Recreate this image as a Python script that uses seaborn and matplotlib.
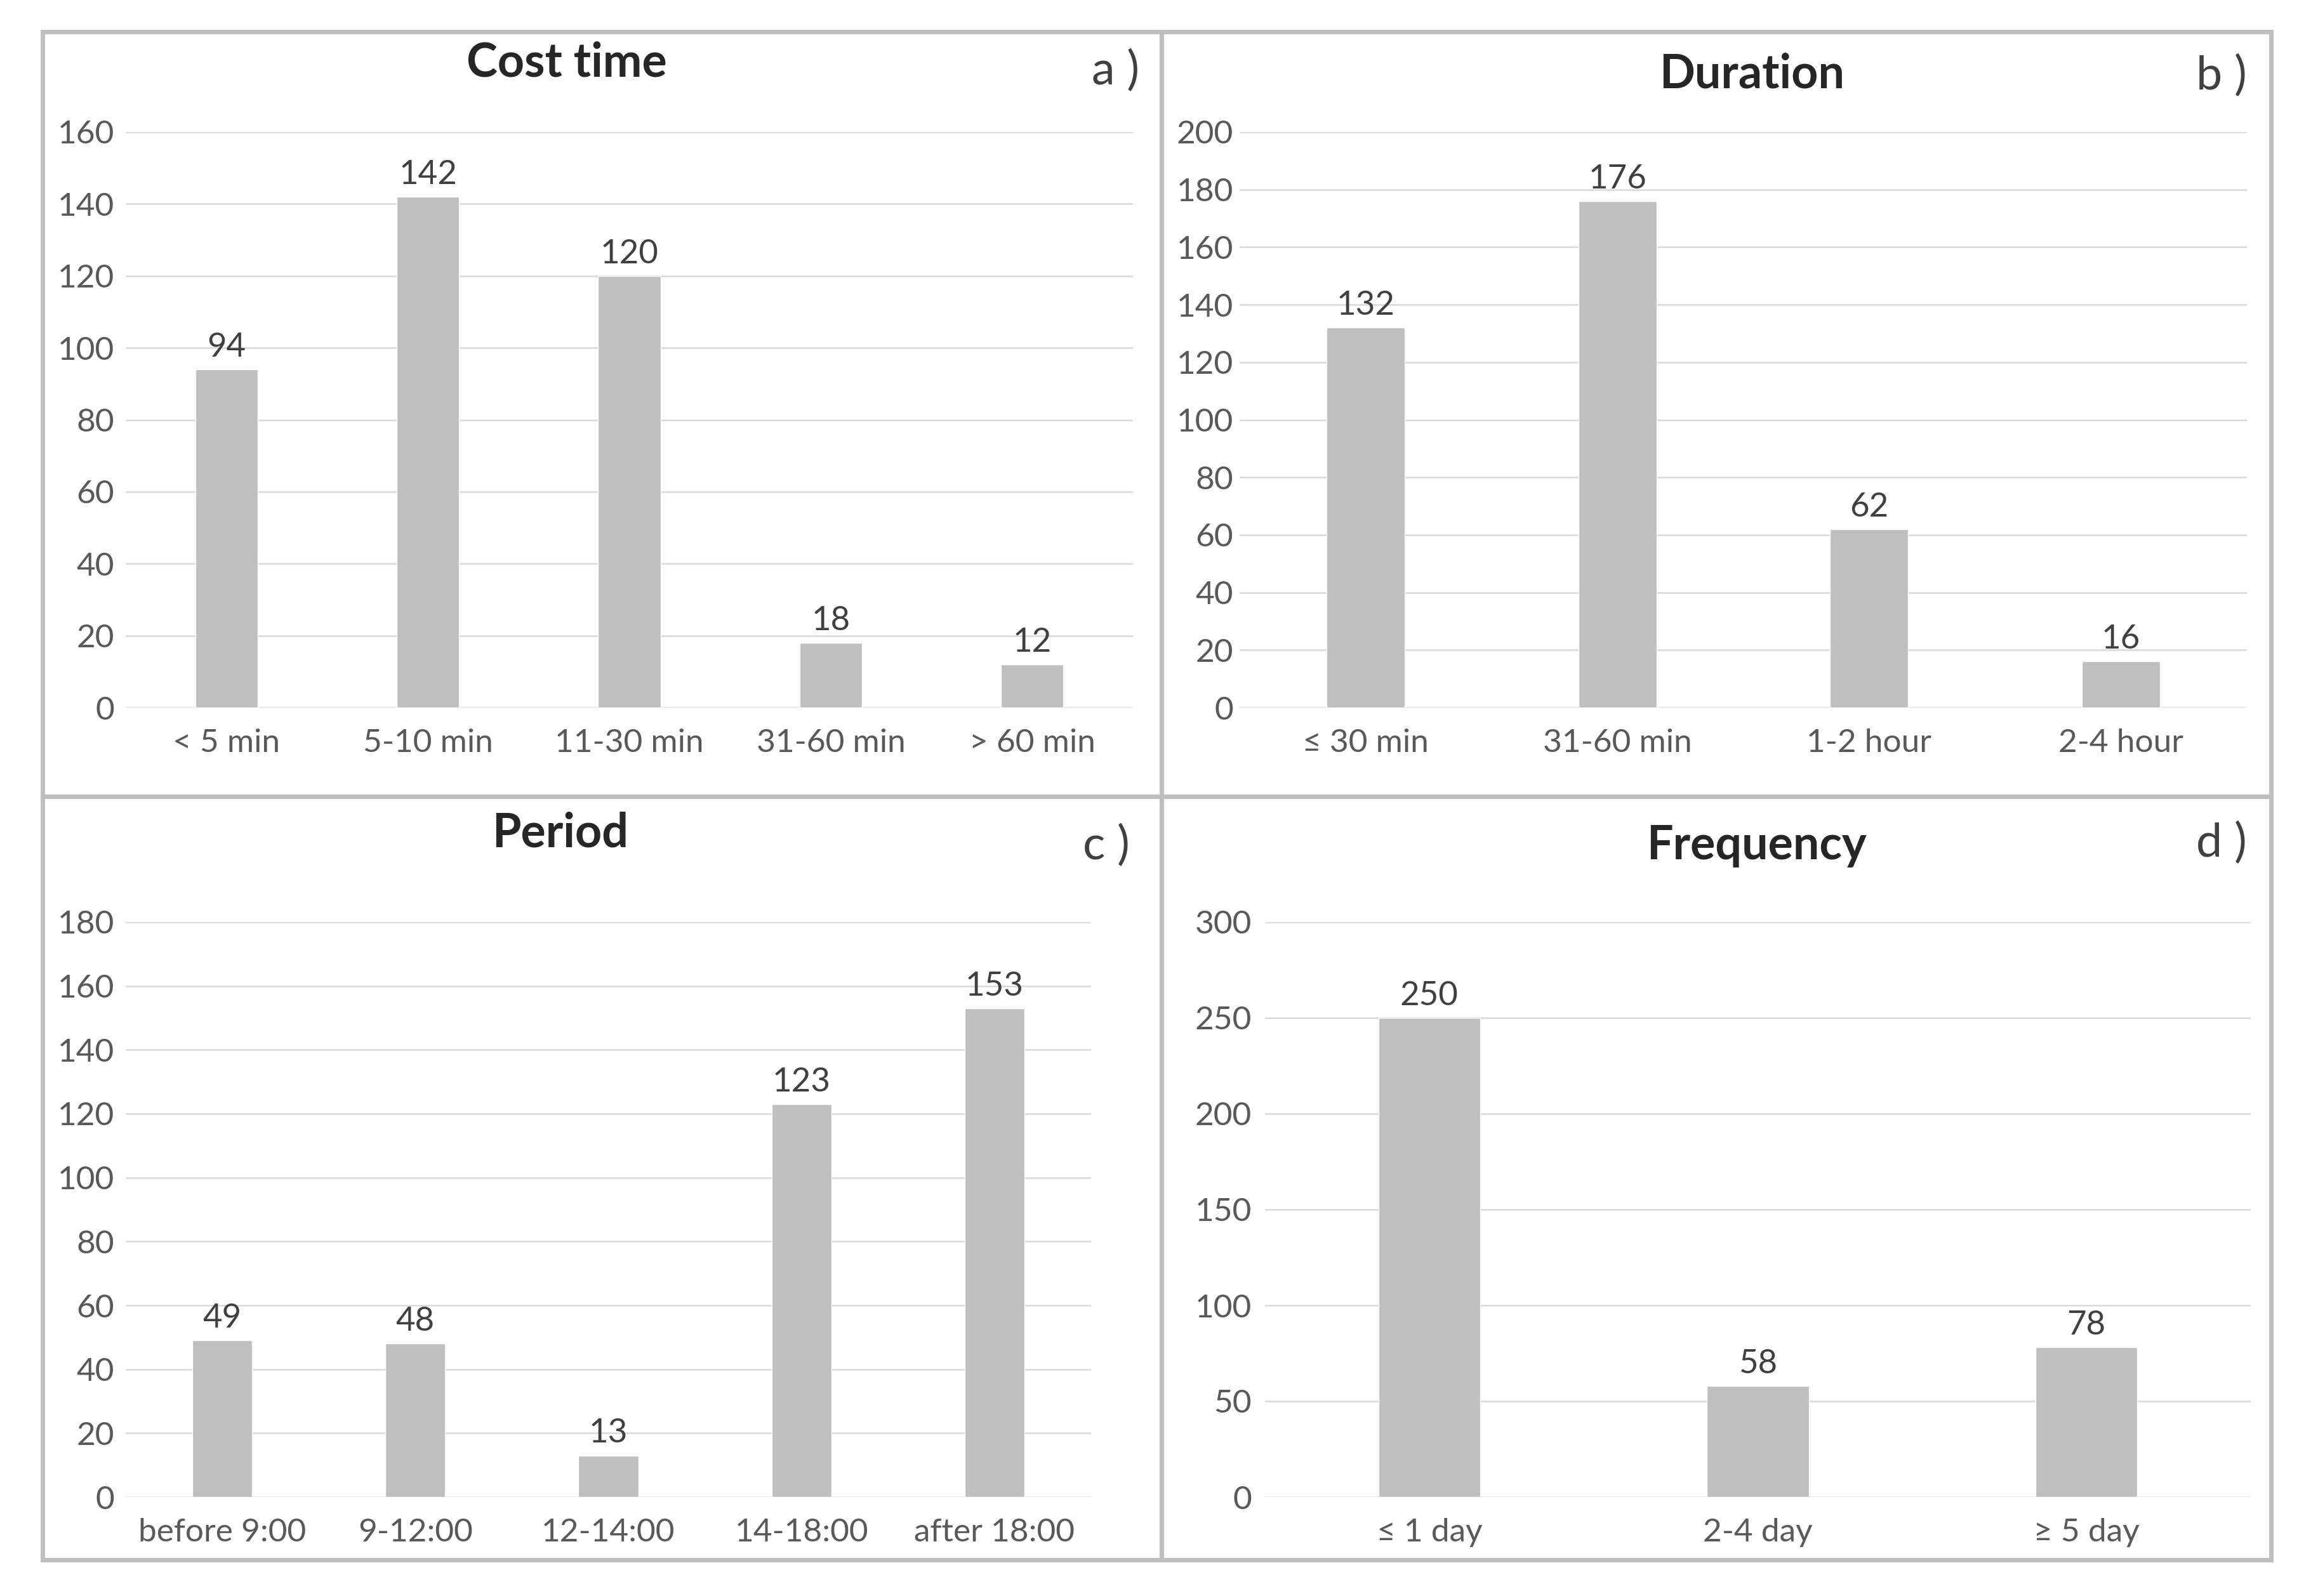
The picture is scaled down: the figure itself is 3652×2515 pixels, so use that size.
import matplotlib
matplotlib.use("Agg")
import matplotlib.pyplot as plt
from matplotlib.patches import Rectangle
import seaborn as sns

# ---- data ----
cost_cats = ["< 5 min", "5-10 min", "11-30 min", "31-60 min", "> 60 min"]
cost_vals = [94, 142, 120, 18, 12]
dur_cats = ["≤ 30 min", "31-60 min", "1-2 hour", "2-4 hour"]
dur_vals = [132, 176, 62, 16]
period_cats = ["before 9:00", "9-12:00", "12-14:00", "14-18:00", "after 18:00"]
period_vals = [49, 48, 13, 123, 153]
freq_cats = ["≤ 1 day", "2-4 day", "≥ 5 day"]
freq_vals = [250, 58, 78]

titles = ["Cost time", "Duration", "Period", "Frequency"]
panel_tags = ["a )", "b )", "c )", "d )"]
y_max = [160, 200, 180, 300]
y_step = [20, 20, 20, 50]

sns.set_theme(style="white")
FAM = ["Lato", "DejaVu Sans"]
plt.rcParams["font.family"] = FAM

W, H = 3652, 2515
fig = plt.figure(figsize=(W / 100, H / 100), dpi=100)
fig.patch.set_facecolor("white")

def fx(x):
    return x / W

def fy(y):
    return 1 - y / H

# axes boxes in pixels: (left, top, right, bottom)
boxes = [(198, 208, 1785, 1115), (1953, 208, 3540, 1115),
         (198, 1453, 1719, 2359), (1993, 1453, 3546, 2359)]
ypads = [13, 7, 13, 15]
title_pos = [(893, 99), (2760, 117), (883, 1313), (2767, 1333)]
tag_pos = [(1795, 112), (3540, 120), (1780, 1333), (3540, 1329)]
borders = [(67, 50, 1830, 1255), (1830, 50, 3578, 1255),
           (67, 1255, 1830, 2458), (1830, 1255, 3578, 2458)]

data = [(cost_cats, cost_vals), (dur_cats, dur_vals),
        (period_cats, period_vals), (freq_cats, freq_vals)]

BAR = "#bfbfbf"
GRID = "#d9d9d9"

for i, (cats, vals) in enumerate(data):
    l, t, r, b = boxes[i]
    ax = fig.add_axes([fx(l), fy(b), (r - l) / W, (b - t) / H])
    sns.barplot(x=cats, y=vals, color=BAR, saturation=1, width=0.31, ax=ax,
                zorder=3)
    ax.set_xlim(-0.5, len(cats) - 0.5)
    ax.set_ylim(0, y_max[i])
    ax.set_yticks(list(range(0, y_max[i] + 1, y_step[i])))
    ax.grid(axis="y", color=GRID, linewidth=1.8, zorder=0)
    ax.grid(axis="x", visible=False)
    ax.set_axisbelow(True)
    for s in ax.spines.values():
        s.set_visible(False)
    ax.set_facecolor("none")
    ax.tick_params(axis="both", length=0, labelsize=37, labelcolor="#595959")
    ax.tick_params(axis="x", pad=24)
    ax.tick_params(axis="y", pad=ypads[i])
    for lab in ax.get_xticklabels() + ax.get_yticklabels():
        lab.set_fontfamily(FAM)
    ax.set_xlabel("")
    ax.set_ylabel("")
    for c in ax.containers:
        ax.bar_label(c, labels=[str(v) for v in vals], padding=8,
                     fontsize=38, color="#404040", family=FAM)
    fig.text(fx(title_pos[i][0]), fy(title_pos[i][1]), titles[i],
             ha="center", va="center", fontsize=53, fontweight="bold",
             color="#262626", family=FAM)
    fig.text(fx(tag_pos[i][0]), fy(tag_pos[i][1]), panel_tags[i],
             ha="right", va="center", fontsize=53, color="#404040",
             family=FAM)

for (l, t, r, b) in borders:
    fig.patches.append(Rectangle((fx(l), fy(b)), (r - l) / W, (b - t) / H,
                                 transform=fig.transFigure, fill=False,
                                 edgecolor="#bfbfbf", linewidth=5,
                                 zorder=10))

fig.savefig("out.png", dpi=100, facecolor="white")
